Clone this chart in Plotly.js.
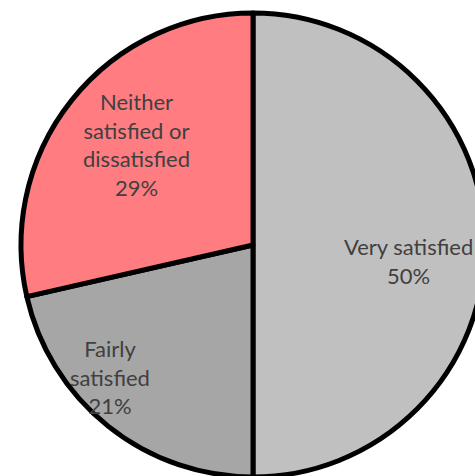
<!DOCTYPE html>
<html>
<head>
<meta charset="utf-8">
<script src="https://cdn.plot.ly/plotly-3.0.1.min.js"></script>
<style>
html,body{margin:0;padding:0;overflow:hidden;background:#fff;}
#chart{width:506px;height:490px;}
</style>
</head>
<body>
<div id="chart"></div>
<script>
const categories = ["Very satisfied", "Fairly satisfied", "Neither satisfied or dissatisfied"];
const displayLabels = ["Very satisfied", "Fairly<br>satisfied", "Neither<br>satisfied or<br>dissatisfied"];
const counts = [7, 3, 4];
const sliceColors = ["#C0C0C0", "#A6A6A6", "#FF7C80"];

// label anchor points (paper coordinates) for each slice's data label
const labelX = [0.808, 0.217, 0.269];
const labelY = [0.466, 0.216, 0.716];

const total = counts.reduce((a, b) => a + b, 0);
const annotations = displayLabels.map((lab, i) => ({
  xref: "paper", yref: "paper",
  x: labelX[i], y: labelY[i],
  xanchor: "center", yanchor: "middle",
  text: lab + "<br>" + Math.round(100 * counts[i] / total) + "%",
  showarrow: false,
  font: {family: "Lato, 'Liberation Sans', sans-serif", size: 22, color: "#404040"},
  align: "center"
}));

Plotly.newPlot("chart", [{
  type: "pie",
  labels: categories,
  values: counts,
  sort: false,
  direction: "clockwise",
  rotation: 0,
  textinfo: "none",
  marker: {colors: sliceColors, line: {color: "#000000", width: 5}},
  hoverinfo: "none"
}], {
  width: 506,
  height: 490,
  margin: {l: 0, r: 0, t: 13, b: 13},
  showlegend: false,
  paper_bgcolor: "#ffffff",
  annotations: annotations
}, {displayModeBar: false, staticPlot: true});
</script>
</body>
</html>
